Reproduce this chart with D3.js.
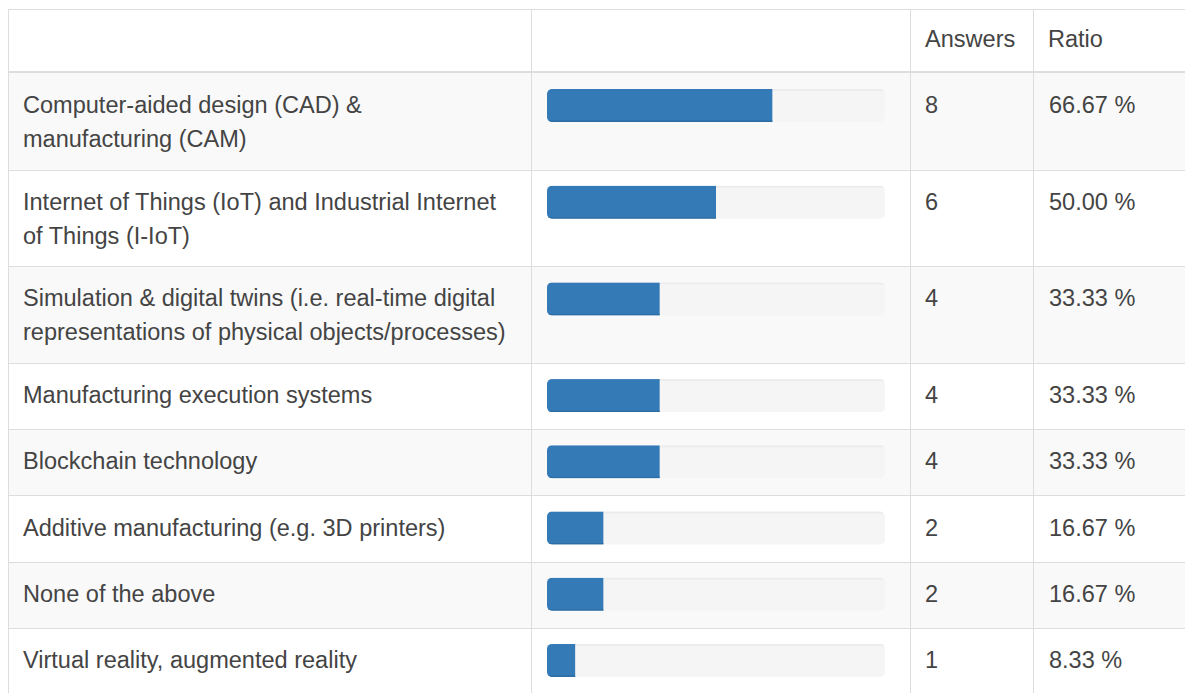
<!DOCTYPE html>
<html>
<head>
<meta charset="utf-8">
<script src="https://cdn.jsdelivr.net/npm/d3@7"></script>
<style>
  body { margin: 0; background: #fff; }
  svg { display: block; font-family: "Liberation Sans", Arial, Helvetica, sans-serif; }
</style>
</head>
<body>
<svg width="1185" height="693"></svg>
<script>
var svg = d3.select('svg');

var categories = [
    "Computer-aided design (CAD) & manufacturing (CAM)",
    "Internet of Things (IoT) and Industrial Internet of Things (I-IoT)",
    "Simulation & digital twins (i.e. real-time digital representations of physical objects/processes)",
    "Manufacturing execution systems",
    "Blockchain technology",
    "Additive manufacturing (e.g. 3D printers)",
    "None of the above",
    "Virtual reality, augmented reality"
];
var answers = [8, 6, 4, 4, 4, 2, 2, 1];
var ratios = [66.67, 50.00, 33.33, 33.33, 33.33, 16.67, 16.67, 8.33];
var headers = ["", "", "Answers", "Ratio"];

// layout
var tableLeft = 8, tableTop = 9, headerBottom = 73;
var colX = [8, 531, 910, 1033, 1185];
var lineH = 34;
var textColor = '#444444', borderColor = '#dddddd';

var barScale = d3.scaleLinear().domain([0, 100]).range([0, 338]);
var barLeft = colX[1] + 16, barH = 33, barTop = 16;

// pick the font size so the first line is as wide as in the picture (~339px)
var measure = svg.append('text').attr('font-size', 100).attr('visibility', 'hidden');
measure.text('Computer-aided design (CAD) &');
var fontSize = 100 * 339 / measure.node().getComputedTextLength();
measure.attr('font-size', fontSize);

// wrap labels into lines that fit the first column
var maxW = colX[1] - colX[0] - 30;
function wrap(str) {
    var words = str.split(' '), lines = [], cur = '';
    words.forEach(function(w) {
        var test = cur ? cur + ' ' + w : w;
        measure.text(test);
        if (cur && measure.node().getComputedTextLength() > maxW) {
            lines.push(cur);
            cur = w;
        } else {
            cur = test;
        }
    });
    lines.push(cur);
    return lines;
}

var rows = [];
var y = headerBottom;
categories.forEach(function(c, i) {
    var lines = wrap(c);
    var h = lines.length > 1 ? 96.7 : 66.2;
    rows.push({label: c, lines: lines, answers: answers[i], ratio: ratios[i], y: y, h: h, i: i});
    y += h;
});
measure.remove();

// row backgrounds (striped)
svg.selectAll('rect.row')
    .data(rows)
    .enter()
    .append('rect')
    .attr('class', 'row')
    .attr('x', tableLeft)
    .attr('y', function(d){ return d.y; })
    .attr('width', 1185 - tableLeft)
    .attr('height', function(d){ return d.h; })
    .attr('fill', function(d){ return d.i % 2 === 0 ? '#f9f9f9' : '#ffffff'; });

// horizontal borders
svg.append('line')
    .attr('x1', tableLeft).attr('x2', 1185)
    .attr('y1', tableTop + 0.5).attr('y2', tableTop + 0.5)
    .attr('stroke', borderColor);
svg.append('line')
    .attr('x1', tableLeft).attr('x2', 1185)
    .attr('y1', headerBottom - 1).attr('y2', headerBottom - 1)
    .attr('stroke', borderColor).attr('stroke-width', 2);
svg.selectAll('line.rowline')
    .data(rows.slice(1))
    .enter()
    .append('line')
    .attr('class', 'rowline')
    .attr('x1', tableLeft).attr('x2', 1185)
    .attr('y1', function(d){ return Math.round(d.y) + 0.5; })
    .attr('y2', function(d){ return Math.round(d.y) + 0.5; })
    .attr('stroke', borderColor);

// vertical borders
svg.selectAll('line.col')
    .data(colX.slice(0, 4))
    .enter()
    .append('line')
    .attr('class', 'col')
    .attr('x1', function(d){ return d + 0.5; })
    .attr('x2', function(d){ return d + 0.5; })
    .attr('y1', tableTop).attr('y2', 693)
    .attr('stroke', borderColor);

// header text
svg.selectAll('text.head')
    .data(headers)
    .enter()
    .append('text')
    .attr('class', 'head')
    .attr('x', function(d, i){ return colX[i] + 15; })
    .attr('y', 47)
    .attr('font-size', fontSize)
    .attr('fill', textColor)
    .text(function(d){ return d; });

var g = svg.selectAll('g.cells')
    .data(rows)
    .enter()
    .append('g')
    .attr('class', 'cells')
    .attr('transform', function(d){ return 'translate(0,' + d.y + ')'; });

// labels
g.append('text')
    .attr('font-size', fontSize)
    .attr('fill', textColor)
    .selectAll('tspan')
    .data(function(d){ return d.lines; })
    .enter()
    .append('tspan')
    .attr('x', colX[0] + 15)
    .attr('y', function(d, i){ return 40 + i * lineH; })
    .text(function(d){ return d; });

// progress track
var defs = svg.append('defs');
rows.forEach(function(d){
    defs.append('clipPath')
        .attr('id', 'clip' + d.i)
        .append('rect')
        .attr('x', barLeft)
        .attr('y', barTop)
        .attr('width', barScale(100))
        .attr('height', barH)
        .attr('rx', 5);
});

g.append('rect')
    .attr('x', barLeft)
    .attr('y', barTop)
    .attr('width', barScale(100))
    .attr('height', barH)
    .attr('rx', 5)
    .attr('fill', '#f5f5f5');
g.append('rect')
    .attr('x', barLeft)
    .attr('y', barTop)
    .attr('width', barScale(100))
    .attr('height', 2)
    .attr('fill', '#ececec')
    .attr('clip-path', function(d){ return 'url(#clip' + d.i + ')'; });

// progress bar
g.append('rect')
    .attr('x', barLeft)
    .attr('y', barTop)
    .attr('width', function(d){ return barScale(d.ratio); })
    .attr('height', barH)
    .attr('fill', '#337ab7')
    .attr('clip-path', function(d){ return 'url(#clip' + d.i + ')'; });
g.append('rect')
    .attr('x', barLeft)
    .attr('y', barTop + barH - 1.5)
    .attr('width', function(d){ return barScale(d.ratio); })
    .attr('height', 1.5)
    .attr('fill', '#2d6da3')
    .attr('clip-path', function(d){ return 'url(#clip' + d.i + ')'; });

// answers
g.append('text')
    .attr('x', colX[2] + 15)
    .attr('y', 40)
    .attr('font-size', fontSize)
    .attr('fill', textColor)
    .text(function(d){ return d.answers; });

// ratio
g.append('text')
    .attr('x', colX[3] + 16)
    .attr('y', 40)
    .attr('font-size', fontSize)
    .attr('fill', textColor)
    .text(function(d){ return d3.format('.2f')(d.ratio) + ' %'; });
</script>
</body>
</html>
